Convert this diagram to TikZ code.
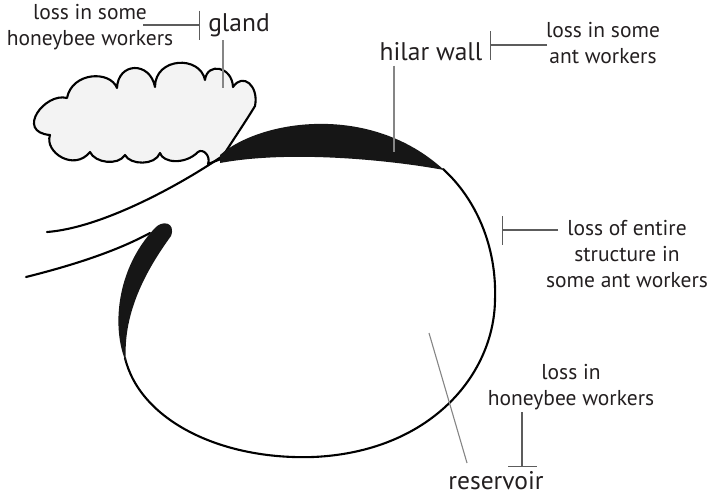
\documentclass[tikz,border=0pt]{standalone}
\usepackage{fontspec}
\setmainfont{PT Sans}
\usetikzlibrary{arrows.meta}
\definecolor{ink}{HTML}{161616}
\definecolor{txt}{HTML}{231F20}
\definecolor{cloudfill}{HTML}{F3F3F3}
\definecolor{leadgray}{HTML}{858585}
\definecolor{bargray}{HTML}{5C5C5C}
\begin{document}
\begin{tikzpicture}[x=1pt,y=1pt,yscale=-1,
  outline/.style={draw=black,line width=2.1pt,line join=round,line cap=round},
  leader/.style={draw=leadgray,line width=1.1pt},
  tbar/.style={draw=bargray,line width=1.3pt,-{Bar[width=29pt,line width=1.3pt]}},
  small/.style={font=\fontsize{21.5}{26}\selectfont,align=center,inner sep=0pt,text=txt},
  big/.style={font=\fontsize{25.5}{30}\selectfont,inner sep=0pt,text=txt}]
\useasboundingbox (0,0) rectangle (709,496);

% gland (cloud shape)
\filldraw[fill=cloudfill,outline]
  (221,159) .. controls (233,140) and (246,121) .. (255,106)
  .. controls (259,86) and (243,72) .. (233,87)
  .. controls (232,66) and (207,62) .. (205,80)
  .. controls (200,55) and (155,57) .. (155,87)
  .. controls (150,61) and (118,62) .. (117,88)
  .. controls (110,70) and (72,72) .. (67,98)
  .. controls (45,92) and (15,132) .. (50,135)
  .. controls (44,152) and (74,172) .. (90,152)
  .. controls (95,163) and (118,166) .. (125,155)
  .. controls (130,165) and (155,166) .. (160,153)
  .. controls (163,163) and (185,165) .. (198,152)
  .. controls (203,148) and (211,156) .. (208,164)
  -- cycle;

% duct walls
\draw[outline] (47,232) .. controls (100,228) and (175,188) .. (221,157);
\draw[outline] (26,277) .. controls (70,266) and (115,252) .. (150,233);

% reservoir wall
\draw[outline] (443,169) .. controls (475,198) and (497,245) .. (495,300)
  .. controls (494,375) and (430,452) .. (313,457)
  .. controls (220,460) and (140,420) .. (125,358);

% hilar wall (thickened cuticle)
\fill[ink] (220,155) .. controls (260,120) and (370,102) .. (444,170)
  .. controls (390,160) and (290,150) .. (220,163) -- cycle;

% thickened wall near the duct opening
\fill[ink] (126,362) .. controls (112,330) and (115,270) .. (155,228)
  .. controls (162,220) and (176,222) .. (171,236)
  .. controls (150,265) and (122,310) .. (126,362) -- cycle;

% labels (anchor: baseline of the last line)
\node[big,anchor=base] (gland) at (239,31.5) {gland};
\node[big,anchor=base] (hilar) at (431,60) {hilar wall};
\node[big,anchor=base] (reservoir) at (496,489.5) {reservoir};
\node[small,anchor=base] (lossbee) at (90,45) {loss in some\\honeybee workers};
\node[small,anchor=base] (lossant) at (603,63) {loss in some\\ant workers};
\node[small,anchor=base] (lossall) at (627,287) {loss of entire\\structure in\\some ant workers};
\node[small,anchor=base] (lossres) at (571,405) {loss in\\honeybee workers};

% leader lines
\coordinate (glandtip) at (223,88);
\coordinate (hilartip) at (394,152);
\coordinate (restip) at (429,333);
\draw[leader] (gland.south -| glandtip) ++(0,3) -- (glandtip);
\draw[leader] (hilar.south -| hilartip) ++(0,5) -- (hilartip);
\draw[leader] (restip) -- (467,463) coordinate (resfoot);

% loss markers
\coordinate (beeA) at (143,25);  \coordinate (beeB) at (200,25);
\coordinate (antA) at (547,45);  \coordinate (antB) at (490,45);
\coordinate (allA) at (558,230); \coordinate (allB) at (502,230);
\coordinate (resA) at (522,412); \coordinate (resB) at (522,467);
\draw[tbar] (beeA) -- (beeB);
\draw[tbar] (antA) -- (antB);
\draw[tbar] (allA) -- (allB);
\draw[tbar] (resA) -- (resB);
\end{tikzpicture}
\end{document}
